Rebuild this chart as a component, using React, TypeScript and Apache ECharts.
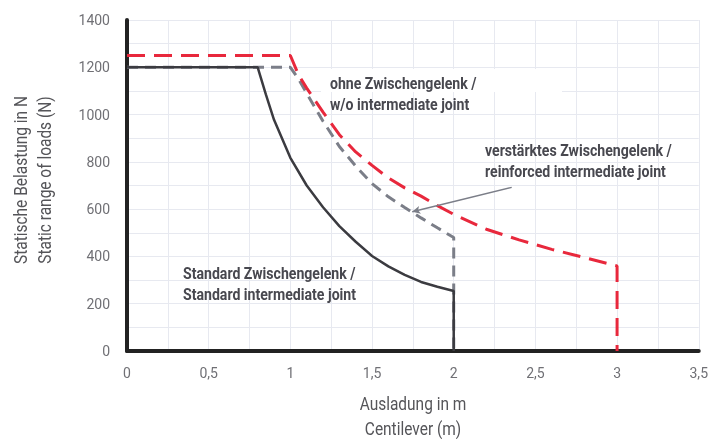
import React, { useEffect, useRef } from "react";
import * as echarts from "echarts";

const standardX = [0, 0.8, 0.85, 0.9, 1.0, 1.1, 1.2, 1.3, 1.4, 1.5, 1.6, 1.7, 1.8, 1.9, 2.0, 2.0];
const standardY = [1200, 1200, 1085, 978, 817, 700, 608, 528, 462, 402, 358, 322, 292, 272, 254, 0];

const withoutX = [0, 1.0, 1.05, 1.1, 1.2, 1.3, 1.4, 1.5, 1.6, 1.7, 1.8, 1.9, 2.0, 2.0];
const withoutY = [1200, 1200, 1150, 1090, 972, 865, 782, 708, 652, 607, 563, 521, 480, 0];

const reinforcedX = [0, 1.0, 1.05, 1.1, 1.2, 1.3, 1.4, 1.5, 1.6, 1.7, 1.8, 1.9, 2.0, 2.2, 2.4, 2.6, 2.8, 3.0, 3.0];
const reinforcedY = [1250, 1250, 1168, 1112, 1010, 915, 842, 785, 732, 690, 655, 615, 578, 515, 470, 430, 395, 360, 0];

const pointerFrom = [2.355, 692];
const pointerTo = [1.746, 589];

const xTicks = [0, 0.5, 1, 1.5, 2, 2.5, 3, 3.5];
const yTicks = [0, 200, 400, 600, 800, 1000, 1200, 1400];

const xTitle = ["Ausladung in m", "Centilever (m)"];
const yTitle = ["Statische Belastung in N", "Static range of loads (N)"];
const labelWithout = "ohne Zwischengelenk /\nw/o intermediate joint";
const labelReinforced = "verstärktes Zwischengelenk /\nreinforced intermediate joint";
const labelStandard = "Standard Zwischengelenk /\nStandard intermediate joint";

const FONT = "Roboto, 'Noto Sans', sans-serif";
const NAME_COLOR = "#555559";
const NOTE_COLOR = "#48484f";

const zip = (xs: number[], ys: number[]) => xs.map((x, i) => [x, ys[i]]);

export default function App() {
  const ref = useRef<HTMLDivElement>(null);
  useEffect(() => {
    if (!ref.current) return;
    const chart = echarts.init(ref.current, undefined, { renderer: "svg" });
    const note = (text: string, x: number, y: number) => ({
      type: "text",
      x,
      y,
      scaleX: 0.83,
      z: 10,
      style: {
        text,
        fill: NOTE_COLOR,
        font: `bold 17px ${FONT}`,
        lineHeight: 21,
        textVerticalAlign: "top",
        textAlign: "left",
      },
    });
    const name = (text: string, x: number, y: number, rotation = 0) => ({
      type: "text",
      x,
      y,
      rotation,
      scaleX: 0.86,
      z: 10,
      style: {
        text,
        fill: NAME_COLOR,
        font: `18px ${FONT}`,
        textAlign: "center",
        textVerticalAlign: "middle",
      },
    });
    chart.setOption({
      animation: false,
      textStyle: { fontFamily: FONT },
      grid: { left: 127, right: 11, top: 20, bottom: 88 },
      xAxis: {
        type: "value",
        min: xTicks[0],
        max: xTicks[xTicks.length - 1],
        interval: 0.5,
        axisLine: { show: true, onZero: false, lineStyle: { color: "#222", width: 4 } },
        axisTick: { show: false },
        axisLabel: {
          color: "#707075",
          fontSize: 14,
          margin: 15,
          fontFamily: FONT,
          formatter: (v: number) => String(v).replace(".", ","),
        },
        splitLine: { show: true, lineStyle: { color: "#e7e9f0", width: 1 } },
        minorTick: { show: false, splitNumber: 2 },
        minorSplitLine: { show: true, lineStyle: { color: "#e7e9f0", width: 1 } },
      },
      yAxis: {
        type: "value",
        min: yTicks[0],
        max: yTicks[yTicks.length - 1],
        interval: 200,
        axisLine: { show: true, lineStyle: { color: "#222", width: 4 } },
        axisTick: { show: false },
        axisLabel: {
          color: "#707075",
          fontSize: 14,
          margin: 17,
          fontFamily: FONT,
          padding: [7, 0, 0, 0],
          formatter: (v: number) => String(v),
        },
        splitLine: { show: true, lineStyle: { color: "#e7e9f0", width: 1 } },
        minorTick: { show: false, splitNumber: 2 },
        minorSplitLine: { show: true, lineStyle: { color: "#e7e9f0", width: 1 } },
      },
      graphic: [
        { type: "rect", shape: { x: 321, y: 69, width: 241, height: 23 }, style: { fill: "#fff" }, z: 1 },
        note(labelWithout, 330, 73),
        note(labelReinforced, 485, 140),
        note(labelStandard, 183, 263),
        name(xTitle[0], 413, 404),
        name(xTitle[1], 413, 429),
        name(yTitle[0], 21, 180, Math.PI / 2),
        name(yTitle[1], 45, 180, Math.PI / 2),
      ],
      series: [
        {
          type: "line",
          name: "reinforced",
          data: zip(reinforcedX, reinforcedY),
          showSymbol: false,
          symbol: "none",
          lineStyle: { color: "#e8283c", width: 3, type: [18, 9] },
          z: 3,
        },
        {
          type: "line",
          name: "without",
          data: zip(withoutX, withoutY),
          showSymbol: false,
          symbol: "none",
          lineStyle: { color: "#7b7e88", width: 3, type: [11, 7] },
          z: 2,
          markLine: {
            silent: true,
            symbol: ["none", "arrow"],
            symbolSize: [6, 8],
            label: { show: false },
            lineStyle: { color: "#7b7e88", width: 1.5, type: "solid" },
            data: [[{ coord: pointerFrom }, { coord: pointerTo }]],
          },
        },
        {
          type: "line",
          name: "standard",
          data: zip(standardX, standardY),
          showSymbol: false,
          symbol: "none",
          lineStyle: { color: "#3b3b40", width: 2.5 },
          z: 4,
        },
      ],
    });
    return () => chart.dispose();
  }, []);
  return <div ref={ref} style={{ position: "fixed", left: 0, top: 0, width: 711, height: 439 }} />;
}
